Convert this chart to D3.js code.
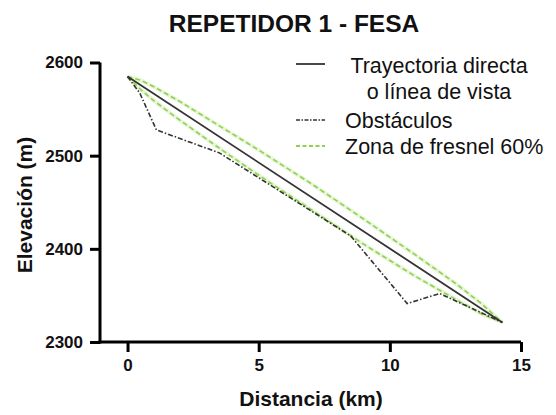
<!DOCTYPE html>
<html>
<head>
<meta charset="utf-8">
<script src="https://cdn.jsdelivr.net/npm/d3@7"></script>
<style>
  html, body { margin: 0; padding: 0; background: #fff; }
  svg { display: block; font-family: Arial, "Liberation Sans", Helvetica, sans-serif; }
</style>
</head>
<body>
<svg id="chart" width="556" height="415"></svg>
<script>
// ---- data ----
const directKm = [0, 14.29];
const directElev = [2585, 2321];

const obstKm   = [0, 0.47, 1.1, 3.5, 8.51, 10.66, 11.9, 14.29];
const obstElev = [2585, 2567, 2527.6, 2503, 2413.8, 2341.3, 2352, 2321];

const fresnelKm    = [0, 0.5, 1, 2, 3.5, 5, 7, 9, 11, 12.5, 13.5, 14.29];
const fresnelUpper = [2585, 2581, 2574, 2558, 2532, 2506, 2470, 2432, 2393, 2363, 2341, 2321];
const fresnelLower = [2585, 2571, 2559, 2538, 2508, 2479, 2442, 2405, 2370, 2346, 2330, 2321];

const xTicks = [0, 5, 10, 15];
const yTicks = [2300, 2400, 2500, 2600];

const legendLabels = [["Trayectoria directa", "o línea de vista"], ["Obstáculos"], ["Zona de fresnel 60%"]];

// ---- chart ----
const svg = d3.select("#chart");
const x = d3.scaleLinear().domain([-1.05, 15]).range([100, 521]);
const y = d3.scaleLinear().domain([2300, 2600]).range([342, 62.5]);

const line = d3.line().x(d => x(d[0])).y(d => y(d[1]));
const zip = (a, b) => a.map((v, i) => [v, b[i]]);

const green = "#8fd14f";

// fresnel glow + dashed
[fresnelUpper, fresnelLower].forEach(arr => {
  svg.append("path").attr("d", line(zip(fresnelKm, arr)))
    .attr("fill", "none").attr("stroke", "#dff2cc").attr("stroke-width", 4).attr("opacity", 0.7);
});
[fresnelUpper, fresnelLower].forEach(arr => {
  svg.append("path").attr("d", line(zip(fresnelKm, arr)))
    .attr("fill", "none").attr("stroke", green).attr("stroke-width", 1.6)
    .attr("stroke-dasharray", "5,3");
});

// direct line
svg.append("path").attr("d", line(zip(directKm, directElev)))
  .attr("fill", "none").attr("stroke", "#333").attr("stroke-width", 1.8);

// obstacles
svg.append("path").attr("d", line(zip(obstKm, obstElev)))
  .attr("fill", "none").attr("stroke", "#333").attr("stroke-width", 1.6)
  .attr("stroke-dasharray", "5,2,1.5,2");

// axes
const xAxis = svg.append("g").attr("transform", "translate(0,342)")
  .call(d3.axisBottom(x).tickValues(xTicks).tickSize(10).tickSizeOuter(0).tickPadding(7).tickFormat(d3.format("d")));
const yAxis = svg.append("g").attr("transform", "translate(100,0)")
  .call(d3.axisLeft(y).tickValues(yTicks).tickSize(10).tickSizeOuter(0).tickPadding(7).tickFormat(d3.format("d")));

[xAxis, yAxis].forEach(g => {
  g.select(".domain").attr("stroke", "#000").attr("stroke-width", 3);
  g.selectAll(".tick line").attr("stroke", "#000").attr("stroke-width", 3);
  g.selectAll(".tick text").attr("fill", "#111").attr("font-size", 17).attr("font-weight", "bold")
    .attr("font-family", "Arial, 'Liberation Sans', sans-serif");
});
xAxis.select(".domain").attr("d", "M98.5,0H521");
yAxis.select(".domain").attr("d", "M0,62.5V343.5");

// title
svg.append("text").attr("x", 294).attr("y", 32).attr("text-anchor", "middle")
  .attr("font-size", 24.5).attr("font-weight", "bold").attr("fill", "#111")
  .text("REPETIDOR 1 - FESA");

// axis titles
svg.append("text").attr("x", 311).attr("y", 406).attr("text-anchor", "middle")
  .attr("font-size", 21).attr("font-weight", "bold").attr("fill", "#111")
  .text("Distancia (km)");
svg.append("text").attr("transform", "translate(32,205) rotate(-90)").attr("text-anchor", "middle")
  .attr("font-size", 21).attr("font-weight", "bold").attr("fill", "#111")
  .text("Elevación (m)");

// legend
const leg = svg.append("g");
const legRows = [
  { y: 64, style: { stroke: "#333", w: 1.8, dash: null } },
  { y: 120, style: { stroke: "#333", w: 1.5, dash: "4,1.5,1.5,1.5" } },
  { y: 146, style: { stroke: green, w: 1.8, dash: "4,2.5" } }
];
legRows.forEach((r, i) => {
  leg.append("line").attr("x1", 296).attr("x2", 325).attr("y1", r.y).attr("y2", r.y)
    .attr("stroke", r.style.stroke).attr("stroke-width", r.style.w)
    .attr("stroke-dasharray", r.style.dash);
});
const fs = 21.5;
leg.append("text").attr("x", 439).attr("y", 73).attr("text-anchor", "middle")
  .attr("font-size", fs).attr("fill", "#111").text(legendLabels[0][0]);
leg.append("text").attr("x", 439).attr("y", 99).attr("text-anchor", "middle")
  .attr("font-size", fs).attr("fill", "#111").text(legendLabels[0][1]);
leg.append("text").attr("x", 345).attr("y", 128)
  .attr("font-size", fs).attr("fill", "#111").text(legendLabels[1][0]);
leg.append("text").attr("x", 345).attr("y", 154)
  .attr("font-size", fs).attr("fill", "#111").text(legendLabels[2][0]);
</script>
</body>
</html>
